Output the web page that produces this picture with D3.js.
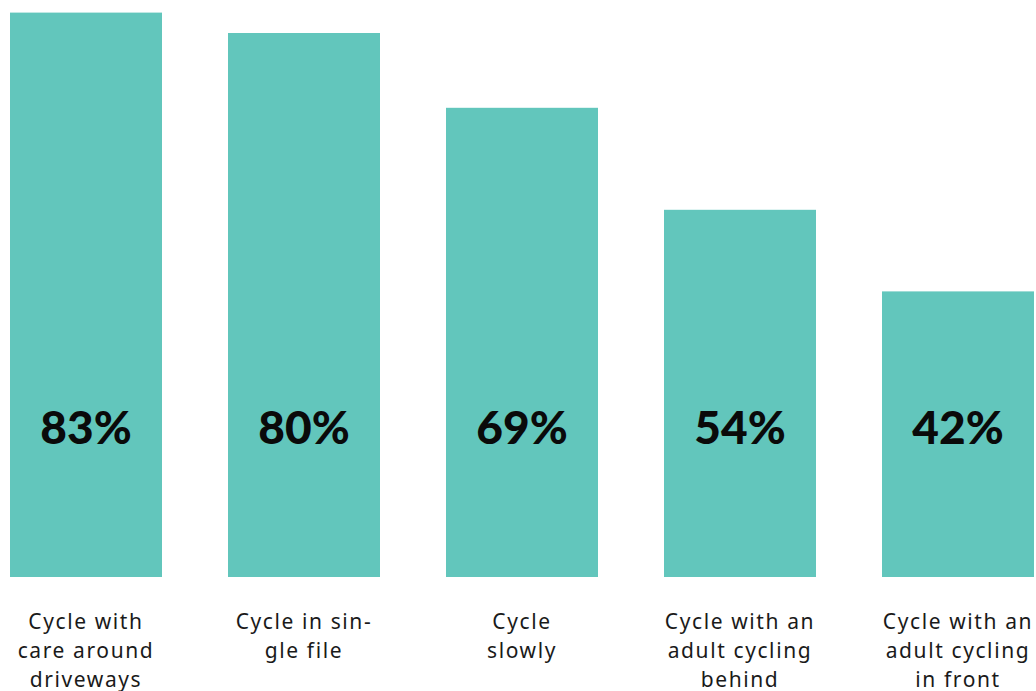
<!DOCTYPE html>
<html><head><meta charset="utf-8">
<script src="https://cdn.jsdelivr.net/npm/d3@7"></script>
<style>
html,body{margin:0;padding:0;background:#fff;}
svg{display:block;}
</style></head>
<body>
<svg id="chart" width="1036" height="691"></svg>
<script>
const categories = ["Cycle with care around driveways","Cycle in single file","Cycle slowly","Cycle with an adult cycling behind","Cycle with an adult cycling in front"];
const labelLines = [["Cycle with","care around","driveways"],["Cycle in sin-","gle file"],["Cycle","slowly"],["Cycle with an","adult cycling","behind"],["Cycle with an","adult cycling","in front"]];
const values = [83, 80, 69, 54, 42];

const svg = d3.select("#chart");
// step 218, bandwidth 152 (last bar runs off the right edge, as in the reference)
const xs = d3.scaleBand().domain(categories).range([10, 10 + 218*5 - 66]).paddingInner(66/218).paddingOuter(0);
const y = d3.scaleLinear().domain([0, 100]).range([577, -103]);

const g = svg.append("g");
g.selectAll("rect").data(values).join("rect")
  .attr("x", (d,i) => xs(categories[i]))
  .attr("y", d => y(d))
  .attr("width", xs.bandwidth())
  .attr("height", d => y(0) - y(d))
  .attr("fill", "#62c6bc");

g.selectAll("text.val").data(values).join("text")
  .attr("class","val")
  .attr("x", (d,i) => xs(categories[i]) + xs.bandwidth()/2)
  .attr("y", 444)
  .attr("text-anchor","middle")
  .attr("font-family","Lato, sans-serif")
  .attr("font-weight", 900)
  .attr("font-size", 46)
  .attr("fill","#0a0a0a")
  .text(d => d + "%");

labelLines.forEach((lines, i) => {
  const cx = xs(categories[i]) + xs.bandwidth()/2;
  const t = g.append("text")
    .attr("text-anchor","middle")
    .attr("font-family","'Noto Sans', sans-serif")
    .attr("font-size", 21)
    .attr("letter-spacing", 1.6)
    .attr("fill","#1a1a1a");
  lines.forEach((l, j) => {
    t.append("tspan").attr("x", cx).attr("y", 629 + j*29).text(l);
  });
});
</script>
</body></html>
